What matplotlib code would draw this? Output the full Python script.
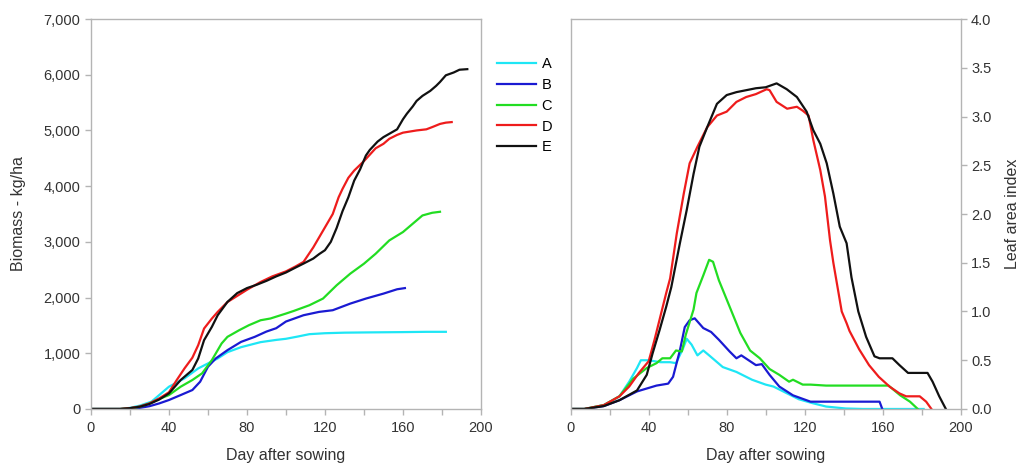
import numpy as np
import matplotlib
matplotlib.use("Agg")
import matplotlib.pyplot as plt
from matplotlib.ticker import MultipleLocator, FuncFormatter

plt.rcParams['font.family'] = ['Liberation Sans', 'DejaVu Sans']

# ---- biomass (kg/ha) vs day after sowing ----
bio_A_day = [0, 15, 20, 25, 31, 35, 40, 48, 55, 60, 65, 70, 77, 87, 95, 100, 106, 112, 120, 130, 143, 160, 172, 182]
bio_A = [0, 0, 20, 60, 131, 250, 400, 550, 728, 818, 907, 1020, 1110, 1200, 1240, 1260, 1300, 1343, 1360, 1370, 1375, 1380, 1385, 1385]

bio_B_day = [0, 20, 25, 30, 35, 40, 46, 52, 56, 60, 64, 70, 77, 84, 90, 95, 100, 104, 109, 117, 124, 133, 141, 150, 157, 161]
bio_B = [0, 0, 20, 50, 100, 161, 250, 340, 490, 758, 907, 1056, 1205, 1295, 1390, 1450, 1570, 1620, 1683, 1743, 1773, 1892, 1982, 2071, 2149, 2170]

bio_C_day = [0, 15, 20, 25, 30, 35, 40, 46, 52, 57, 62, 67, 70, 76, 81, 87, 92, 100, 104, 112, 119, 126, 133, 140, 146, 153, 160, 165, 170, 175, 179]
bio_C = [0, 0, 10, 40, 100, 180, 250, 400, 520, 640, 877, 1176, 1295, 1414, 1504, 1593, 1624, 1713, 1760, 1862, 1982, 2221, 2430, 2608, 2787, 3026, 3176, 3325, 3474, 3522, 3540]

bio_D_day = [0, 15, 20, 25, 30, 35, 40, 44, 48, 52, 55, 58, 62, 65, 70, 75, 80, 87, 93, 100, 105, 109, 114, 119, 124, 127, 129, 132, 135, 140, 146, 150, 153, 157, 160, 167, 172, 175, 179, 182, 185]
bio_D = [0, 0, 15, 45, 100, 190, 300, 520, 730, 920, 1146, 1444, 1623, 1743, 1920, 2030, 2140, 2280, 2380, 2470, 2560, 2640, 2900, 3200, 3500, 3800, 3950, 4150, 4280, 4450, 4680, 4760, 4850, 4920, 4960, 5000, 5020, 5060, 5117, 5140, 5150]

bio_E_day = [0, 15, 20, 25, 30, 35, 40, 46, 52, 55, 58, 62, 65, 70, 75, 80, 85, 90, 95, 100, 105, 109, 114, 117, 120, 123, 126, 129, 132, 135, 138, 141, 143, 147, 150, 154, 157, 160, 162, 165, 167, 170, 174, 177, 179, 182, 186, 189, 193]
bio_E = [0, 0, 15, 40, 90, 170, 280, 520, 700, 907, 1235, 1474, 1683, 1922, 2080, 2170, 2230, 2300, 2380, 2450, 2540, 2610, 2700, 2780, 2850, 3000, 3250, 3550, 3800, 4100, 4300, 4550, 4650, 4800, 4880, 4960, 5020, 5200, 5300, 5430, 5530, 5620, 5710, 5800, 5870, 5990, 6040, 6090, 6100]

# ---- leaf area index vs day after sowing ----
lai_A_day = [0, 7, 17, 25, 30, 34, 36, 40, 46, 51, 54, 57.6, 59.5, 62, 65, 68, 71, 78, 85, 93, 100, 104, 111, 117, 124, 131, 141, 150, 181]
lai_A = [0, 0, 0.04, 0.13, 0.28, 0.42, 0.50, 0.50, 0.48, 0.48, 0.47, 0.62, 0.72, 0.66, 0.55, 0.60, 0.55, 0.43, 0.38, 0.30, 0.25, 0.23, 0.16, 0.10, 0.06, 0.025, 0.005, 0, 0]

lai_B_day = [0, 7, 17, 25, 34, 39, 44, 50, 52.5, 56, 58.5, 61, 63.6, 68, 72, 76, 81.5, 85, 87.5, 92, 95, 98, 102, 107, 114, 123, 158.4, 159.8]
lai_B = [0, 0, 0.03, 0.09, 0.18, 0.21, 0.24, 0.26, 0.33, 0.60, 0.84, 0.91, 0.93, 0.83, 0.79, 0.71, 0.59, 0.52, 0.55, 0.49, 0.45, 0.46, 0.35, 0.23, 0.14, 0.075, 0.075, 0]

lai_C_day = [0, 7, 17, 25, 32, 39, 44, 47, 51, 54, 57, 59, 63, 64.5, 68, 71, 73, 76, 81.5, 87, 92, 97, 102, 107, 112, 114, 119, 123, 131, 163, 169, 174, 178]
lai_C = [0, 0, 0.04, 0.13, 0.31, 0.42, 0.47, 0.52, 0.52, 0.60, 0.59, 0.76, 1.02, 1.19, 1.37, 1.53, 1.51, 1.32, 1.05, 0.78, 0.60, 0.52, 0.41, 0.35, 0.28, 0.30, 0.25, 0.25, 0.24, 0.24, 0.14, 0.075, 0]

lai_D_day = [0, 7, 17, 25, 30, 35, 40, 43, 46, 49, 51, 54.4, 58, 61, 65, 70, 75, 80, 85, 90, 95, 100.5, 102, 105.6, 111, 116, 119, 122, 124.4, 128, 130.4, 133, 134.7, 139, 141.5, 143, 148, 153, 158, 163.5, 168.6, 172, 179, 182.3, 185]
lai_D = [0, 0, 0.04, 0.13, 0.23, 0.37, 0.49, 0.71, 0.95, 1.19, 1.34, 1.80, 2.21, 2.52, 2.69, 2.89, 3.01, 3.05, 3.15, 3.20, 3.23, 3.28, 3.27, 3.15, 3.08, 3.10, 3.06, 3.01, 2.76, 2.45, 2.18, 1.73, 1.50, 1.00, 0.88, 0.80, 0.61, 0.45, 0.33, 0.23, 0.16, 0.13, 0.13, 0.075, 0]

lai_E_day = [0, 7, 17, 25, 34, 39, 42, 45.6, 49, 51.6, 56, 59.5, 63, 66, 70, 75, 80, 85, 90, 95, 100, 105.6, 110.8, 116, 121, 124.4, 128, 131.3, 134.7, 138, 141.5, 144, 147.5, 151.5, 155.8, 158.4, 165, 168.6, 173, 183, 185.6, 189, 192.4]
lai_E = [0, 0, 0.03, 0.09, 0.19, 0.35, 0.57, 0.81, 1.05, 1.25, 1.70, 2.04, 2.41, 2.69, 2.89, 3.13, 3.22, 3.25, 3.27, 3.29, 3.30, 3.34, 3.28, 3.20, 3.05, 2.86, 2.72, 2.52, 2.21, 1.87, 1.70, 1.35, 1.00, 0.74, 0.54, 0.52, 0.52, 0.45, 0.37, 0.37, 0.28, 0.13, 0]

labels = ["A", "B", "C", "D", "E"]
colors = ["#1ee6f5", "#1a1ad2", "#22dd22", "#ee1c1c", "#111111"]

bio = [(bio_A_day, bio_A), (bio_B_day, bio_B), (bio_C_day, bio_C), (bio_D_day, bio_D), (bio_E_day, bio_E)]
lai = [(lai_A_day, lai_A), (lai_B_day, lai_B), (lai_C_day, lai_C), (lai_D_day, lai_D), (lai_E_day, lai_E)]

spine_c = "#b4b4b4"
text_c = "#333333"

fig = plt.figure(figsize=(10.22, 4.72), dpi=100)
ax1 = fig.add_axes([0.0890, 0.1335, 0.3816, 0.8262])
ax2 = fig.add_axes([0.5584, 0.1335, 0.3816, 0.8262])

handles = []
for (d, v), c, lab in zip(bio, colors, labels):
    h, = ax1.plot(d, v, color=c, lw=1.6, label=lab)
    handles.append(h)
for (d, v), c in zip(lai, colors):
    ax2.plot(d, v, color=c, lw=1.6)

for ax in (ax1, ax2):
    ax.set_xlim(0, 200)
    ax.xaxis.set_major_locator(MultipleLocator(40))
    ax.xaxis.set_minor_locator(MultipleLocator(20))
    for s in ax.spines.values():
        s.set_color(spine_c)
        s.set_linewidth(1.0)
    ax.tick_params(which="both", direction="out", color=spine_c, labelcolor=text_c,
                   labelsize=10.5, length=4, width=1.0)
    ax.tick_params(axis="x", pad=5)
    ax.set_xlabel("Day after sowing", fontsize=11.5, color=text_c, labelpad=9)

ax1.set_ylim(0, 7000)
ax1.yaxis.set_major_locator(MultipleLocator(1000))
ax1.yaxis.set_major_formatter(FuncFormatter(lambda v, p: f"{int(v):,}"))
ax1.set_ylabel("Biomass - kg/ha", fontsize=11.5, color=text_c, labelpad=13)

ax2.set_ylim(0, 4.0)
ax2.yaxis.set_major_locator(MultipleLocator(0.5))
ax2.yaxis.set_major_formatter(FuncFormatter(lambda v, p: f"{v:.1f}"))
ax2.yaxis.tick_right()
ax2.yaxis.set_label_position("right")
ax2.set_ylabel("Leaf area index", fontsize=11.5, color=text_c, labelpad=10)

fig.legend(handles=handles, labels=labels, loc="upper left",
           bbox_to_anchor=(497 / 1022, 1 - 57 / 472), frameon=False,
           fontsize=10.5, handlelength=2.7, handletextpad=0.35,
           labelspacing=0.47, borderaxespad=0, borderpad=0)

fig.savefig("out.png", dpi=100)
